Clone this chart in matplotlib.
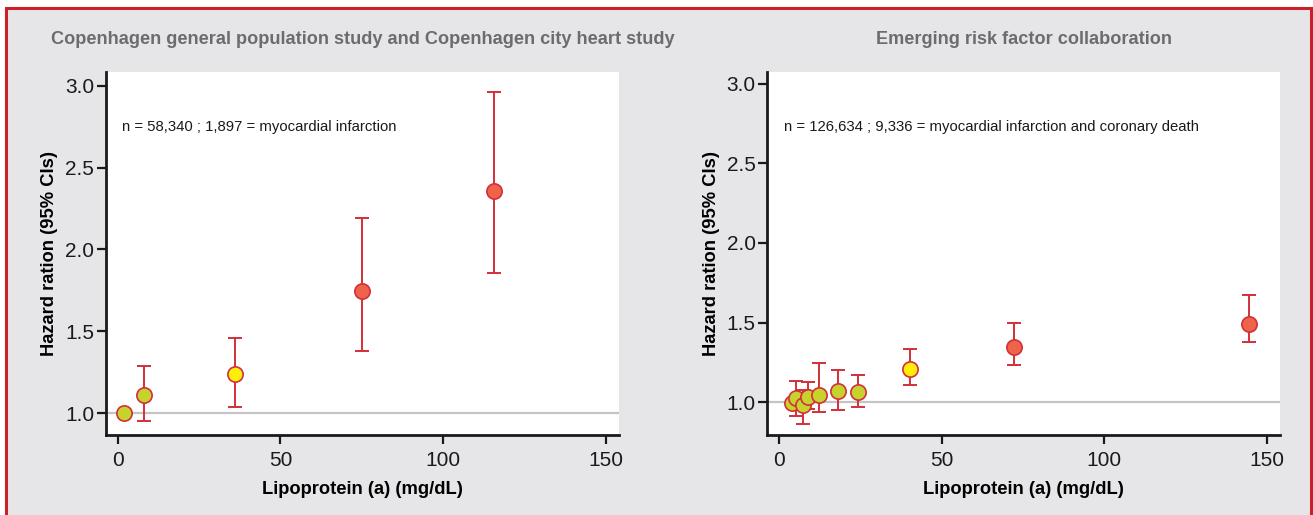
import matplotlib
matplotlib.use('Agg')
import matplotlib.pyplot as plt
from matplotlib.patches import Rectangle

plt.rcParams['font.family'] = ['Liberation Sans', 'DejaVu Sans']

# Copenhagen general population / city heart study
cph_x = [2, 8, 36, 75, 115.5]
cph_hr = [1.0, 1.11, 1.24, 1.745, 2.355]
cph_lo = [1.0, 0.95, 1.035, 1.38, 1.855]
cph_hi = [1.0, 1.29, 1.46, 2.19, 2.96]
cph_grp = ['g', 'g', 'y', 'r', 'r']

# Emerging risk factor collaboration
erfc_x = [3.8, 5.1, 7.2, 9.0, 12.2, 18.2, 24.2, 40.2, 72.2, 144.4]
erfc_hr = [0.995, 1.025, 0.985, 1.035, 1.046, 1.07, 1.066, 1.209, 1.349, 1.489]
erfc_lo = [0.995, 0.915, 0.866, 0.96, 0.94, 0.953, 0.97, 1.107, 1.234, 1.376]
erfc_hi = [0.995, 1.133, 1.077, 1.125, 1.248, 1.20, 1.17, 1.334, 1.497, 1.671]
erfc_grp = ['g', 'g', 'g', 'g', 'g', 'g', 'g', 'y', 'r', 'r']

fill = {'g': '#c6d22e', 'y': '#ffee0a', 'r': '#ee634a'}
edge = '#d2303a'

W, H = 1313, 515
fig = plt.figure(figsize=(W / 100, H / 100), dpi=100, facecolor='white')
bg = Rectangle((6 / W, -0.05), (1311 - 6) / W, 1.05 - 8 / H,
               transform=fig.transFigure, facecolor='#e6e6e8',
               edgecolor='#cc1f2a', linewidth=2.2, zorder=-10)
fig.add_artist(bg)

panels = [
    dict(pos=[106 / W, 1 - 435 / H, 513 / W, 363 / H], ylim=(0.866, 3.085),
         title='Copenhagen general population study and Copenhagen city heart study',
         note='n = 58,340 ; 1,897 = myocardial infarction',
         x=cph_x, hr=cph_hr, lo=cph_lo, hi=cph_hi, grp=cph_grp),
    dict(pos=[767.5 / W, 1 - 435 / H, 512.5 / W, 363 / H], ylim=(0.795, 3.073),
         title='Emerging risk factor collaboration',
         note='n = 126,634 ; 9,336 = myocardial infarction and coronary death',
         x=erfc_x, hr=erfc_hr, lo=erfc_lo, hi=erfc_hi, grp=erfc_grp),
]

for p in panels:
    ax = fig.add_axes(p['pos'])
    ax.set_facecolor('white')
    ax.set_xlim(-3.6, 154)
    ax.set_ylim(*p['ylim'])
    ax.axhline(1.0, color='#c4c4c4', lw=1.6, zorder=1)
    for xi, h, lo, hi, g in zip(p['x'], p['hr'], p['lo'], p['hi'], p['grp']):
        if hi - lo > 0.001:
            ax.errorbar(xi, h, yerr=[[h - lo], [hi - h]], fmt='none',
                        ecolor=edge, elinewidth=1.4, capsize=5, capthick=1.4, zorder=2)
        ax.plot(xi, h, 'o', ms=11, mfc=fill[g], mec=edge, mew=1.2, zorder=3)
    ax.set_xticks([0, 50, 100, 150])
    ax.set_yticks([1.0, 1.5, 2.0, 2.5, 3.0])
    ax.set_yticklabels(['1.0', '1.5', '2.0', '2.5', '3.0'])
    for s in ['top', 'right']:
        ax.spines[s].set_visible(False)
    for s in ['left', 'bottom']:
        ax.spines[s].set_linewidth(2)
        ax.spines[s].set_color('#1a1a1a')
    ax.tick_params(direction='out', length=6.5, width=1.6, labelsize=15,
                   colors='#1a1a1a')
    ax.tick_params(axis='x', pad=5)
    ax.tick_params(axis='y', pad=2)
    ax.set_xlabel('Lipoprotein (a) (mg/dL)', fontsize=13.2, fontweight='bold', labelpad=8)
    ax.set_ylabel('Hazard ration (95% CIs)', fontsize=13.2, fontweight='bold', labelpad=5)
    ax.set_title(p['title'], fontsize=13.1, fontweight='bold', color='#6b6c6e', pad=20)
    ax.text(0.032, 0.848, p['note'], transform=ax.transAxes, fontsize=10.7,
            va='center', ha='left', color='#1a1a1a')

fig.savefig('out.png', dpi=100, facecolor=fig.get_facecolor())
